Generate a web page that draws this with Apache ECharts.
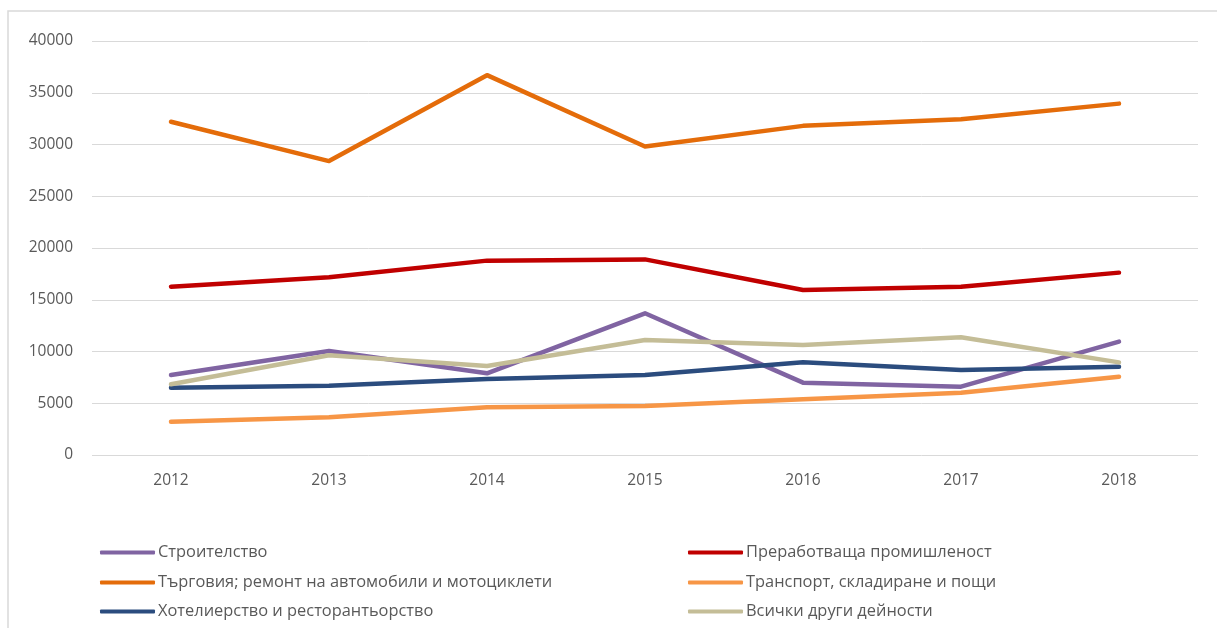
<!DOCTYPE html>
<html>
<head>
<meta charset="utf-8">
<script src="https://cdn.jsdelivr.net/npm/echarts@6/dist/echarts.min.js"></script>
<style>
html,body{margin:0;padding:0;background:#fff;}
#main{width:1217px;height:628px;}
</style>
</head>
<body>
<div id="main"></div>
<script>
const years = ['2012','2013','2014','2015','2016','2017','2018'];
const seriesNames = [
  'Строителство',
  'Преработваща промишленост',
  'Търговия; ремонт на автомобили и мотоциклети',
  'Транспорт, складиране и пощи',
  'Хотелиерство и ресторантьорство',
  'Всички други дейности'
];
const construction = [7730, 10050, 7890, 13690, 6990, 6600, 10950];
const manufacturing = [16260, 17170, 18780, 18900, 15940, 16260, 17620];
const trade = [32200, 28400, 36700, 29800, 31800, 32430, 33950];
const transport = [3220, 3640, 4610, 4730, 5380, 6020, 7570];
const hotels = [6500, 6700, 7340, 7730, 8950, 8210, 8530];
const otherActivities = [6830, 9630, 8600, 11110, 10630, 11370, 8950];
const yTicks = [0, 5000, 10000, 15000, 20000, 25000, 30000, 35000, 40000];

const seriesData = [construction, manufacturing, trade, transport, hotels, otherActivities];
const colors = ['#8064A2', '#C00000', '#E46C0A', '#F79646', '#2B4C7E', '#C4BD97'];

const font = "'Open Sans', 'Liberation Sans', Arial, sans-serif";
const legendPos = [
  {left: 100, top: 542}, {left: 688, top: 542},
  {left: 100, top: 572}, {left: 688, top: 572},
  {left: 100, top: 601}, {left: 688, top: 601}
];

const chart = echarts.init(document.getElementById('main'), null, {renderer: 'canvas'});
chart.setOption({
  backgroundColor: '#ffffff',
  animation: false,
  color: colors,
  graphic: [{
    type: 'rect', silent: true,
    shape: {x: 8, y: 11, width: 1400, height: 800},
    style: {fill: 'none', stroke: '#D9D9D9', lineWidth: 1.5}
  }],
  grid: {left: 92, right: 19, top: 41, bottom: 173, containLabel: false},
  legend: seriesNames.map((n, i) => ({
    data: [n],
    left: legendPos[i].left,
    top: legendPos[i].top,
    icon: 'roundRect',
    itemWidth: 55,
    itemHeight: 4,
    itemGap: 0,
    padding: 0,
    textStyle: {fontFamily: font, fontSize: 16.4, color: '#595959', lineHeight: 21, padding: [0, 0, 0, -2]}
  })),
  xAxis: {
    type: 'category',
    data: years,
    boundaryGap: true,
    axisLine: {show: false},
    axisTick: {show: false},
    axisLabel: {margin: 18, color: '#595959', fontFamily: font, fontSize: 15.5}
  },
  yAxis: {
    type: 'value',
    min: yTicks[0],
    max: yTicks[yTicks.length - 1],
    interval: yTicks[1] - yTicks[0],
    axisLine: {show: false},
    axisTick: {show: false},
    splitLine: {lineStyle: {color: '#D9D9D9', width: 1}},
    axisLabel: {margin: 19, color: '#595959', fontFamily: font, fontSize: 15.5, formatter: v => String(v)}
  },
  series: seriesNames.map((n, i) => ({
    name: n,
    type: 'line',
    data: seriesData[i],
    symbol: 'none',
    lineStyle: {width: 4.5, color: colors[i], cap: 'round', join: 'round'},
    itemStyle: {color: colors[i]}
  }))
});
</script>
</body>
</html>
